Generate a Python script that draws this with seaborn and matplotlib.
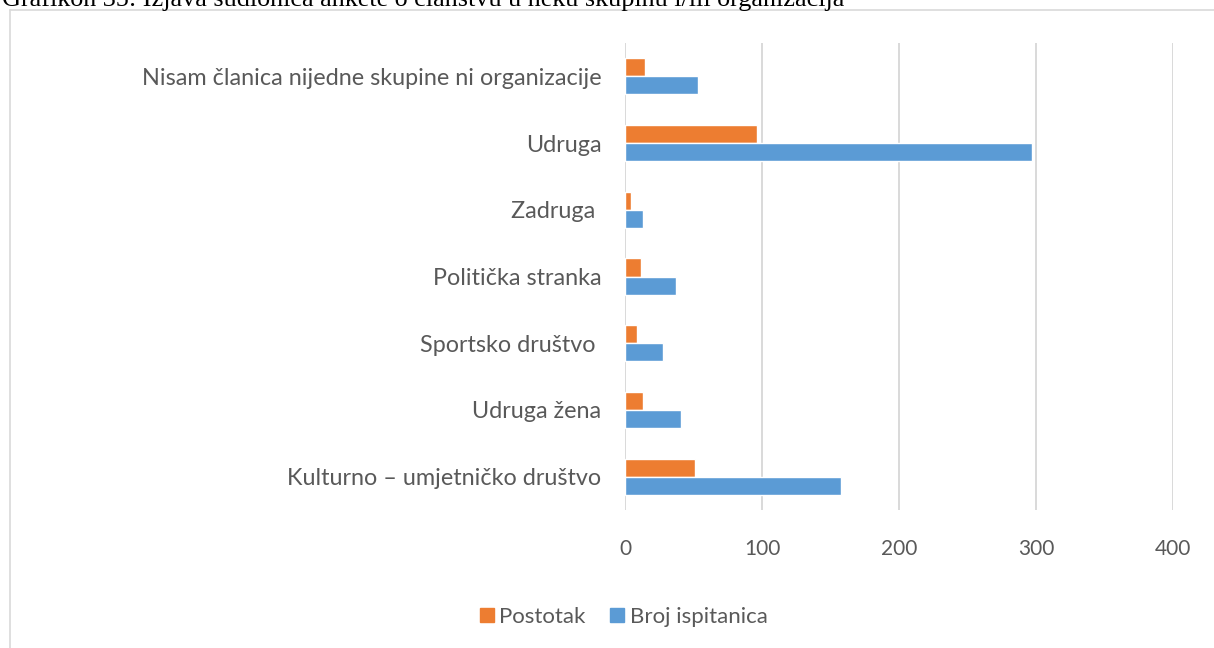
import matplotlib
matplotlib.use("Agg")
import matplotlib.pyplot as plt
from matplotlib.lines import Line2D
import seaborn as sns
import pandas as pd

categories = [
    "Nisam članica nijedne skupine ni organizacije",
    "Udruga",
    "Zadruga ",
    "Politička stranka",
    "Sportsko društvo ",
    "Udruga žena",
    "Kulturno – umjetničko društvo",
]
postotak = [14.6, 96.4, 4.2, 12.0, 9.1, 13.3, 51.3]
broj_ispitanica = [53, 297, 13, 37, 28, 41, 158]
series_names = ["Postotak", "Broj ispitanica"]
x_ticks = [0, 100, 200, 300, 400]

df = pd.DataFrame({
    "kategorija": categories * 2,
    "serija": [series_names[0]] * len(categories) + [series_names[1]] * len(categories),
    "vrijednost": postotak + broj_ispitanica,
})

sns.set_theme(style="white")
plt.rcParams["font.family"] = ["Lato", "DejaVu Sans"]

fig = plt.figure(figsize=(12.14, 6.48), dpi=100)
ax = fig.add_axes([625 / 1214, 1 - 510 / 648, (1173 - 625) / 1214, (510 - 43) / 648])

palette = {"Postotak": "#ED7D31", "Broj ispitanica": "#5B9BD5"}
sns.barplot(data=df, y="kategorija", x="vrijednost", hue="serija",
            hue_order=series_names, order=categories, palette=palette,
            width=0.54, ax=ax, saturation=1, legend=False, zorder=3)

ax.set_xlim(0, 400)
ax.set_xticks(x_ticks)
ax.set_xlabel("")
ax.set_ylabel("")
ax.grid(axis="x", color="#d9d9d9", linewidth=1.4, zorder=0)
ax.grid(axis="y", visible=False)
for s in ax.spines.values():
    s.set_visible(False)
ax.tick_params(axis="both", length=0, colors="#595959")
ax.tick_params(axis="x", pad=21, labelsize=15)
ax.tick_params(axis="y", pad=17, labelsize=16.8)

# Legend below the plot
handles = [Line2D([0], [0], marker="s", linestyle="", markersize=10,
                  markerfacecolor=palette[n], markeredgecolor=palette[n]) for n in series_names]
leg = fig.legend(handles, series_names, loc="center", bbox_to_anchor=(622 / 1214, 1 - 617 / 648),
                 ncol=2, frameon=False, fontsize=16, handletextpad=0.1, columnspacing=1.0,
                 handlelength=0.9)
for t in leg.get_texts():
    t.set_color("#595959")

# Chart frame (top and left edges visible)
fig.add_artist(Line2D([10 / 1214, 1], [1 - 10 / 648, 1 - 10 / 648], color="#d9d9d9", linewidth=1.2,
                      transform=fig.transFigure))
fig.add_artist(Line2D([10 / 1214, 10 / 1214], [0, 1 - 10 / 648], color="#d9d9d9", linewidth=1.2,
                      transform=fig.transFigure))

# Caption above the frame
fig.text(2 / 1214, 1 - 6 / 648,
         "Grafikon 35: Izjava sudionica ankete o članstvu u neku skupinu i/ili organizacija",
         family=["Liberation Serif", "DejaVu Serif"], fontsize=18.8, color="black",
         ha="left", va="baseline")

fig.savefig("out.png", dpi=100)
